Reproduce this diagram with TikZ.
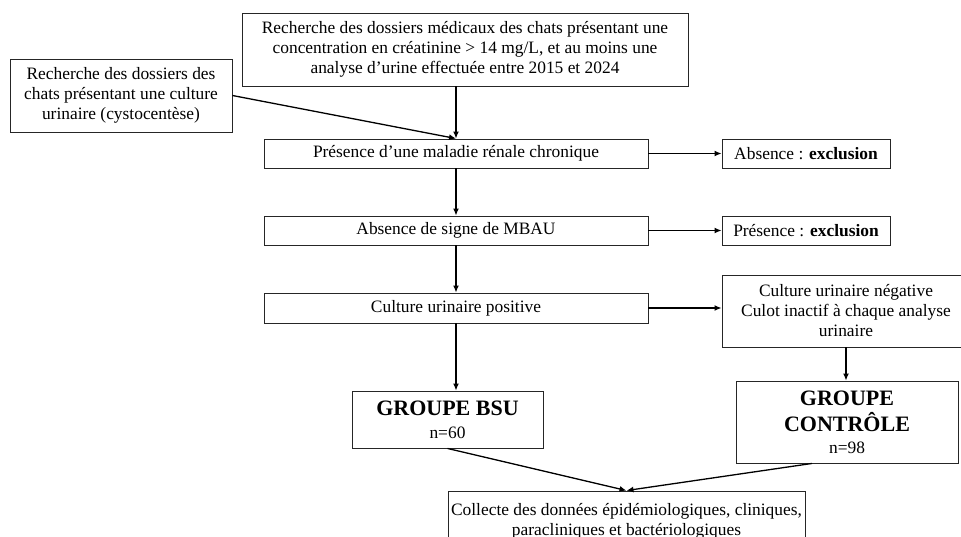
\documentclass[tikz,border=0pt]{standalone}
\usepackage{fontspec}
\setmainfont{Liberation Serif}
\usetikzlibrary{arrows.meta,calc}
\newcommand\myfs{\fontsize{17.4}{20}\selectfont}
\newcommand\mybig{\fontsize{22}{28}\selectfont\bfseries}
\newcommand\myback{\fontsize{17.4}{24}\selectfont\mdseries}
\tikzset{
  box/.style={draw=black!85, line width=0.9pt, inner sep=0pt, align=center, font=\myfs},
  arr/.style={line width=1.3pt, -{Latex[length=7pt,width=6pt]}},
  ln/.style={line width=1.3pt}
}
\begin{document}
\begin{tikzpicture}[x=1pt,y=-1pt]
\clip (0,0) rectangle (961,537);
\fill[white] (0,0) rectangle (961,537);
\node[box, minimum width=446pt, minimum height=73pt] (top) at (465,49.5)
  {Recherche des dossiers médicaux des chats présentant une\\concentration en créatinine > 14 mg/L, et au moins une\\analyse d’urine effectuée entre 2015 et 2024};
\node[box, minimum width=222pt, minimum height=73pt] (left) at (121,95.5)
  {Recherche des dossiers des\\chats présentant une culture\\urinaire (cystocentèse)};
\node[box, minimum width=384pt, minimum height=29pt] (mal) at (456,153.5)
  {Présence d’une maladie rénale chronique};
\node[box, minimum width=168pt, minimum height=29pt] (exa) at (806,153.5)
  {Absence : \textbf{exclusion}};
\node[box, minimum width=384pt, minimum height=29pt] (mbau) at (456,230.5)
  {Absence de signe de MBAU};
\node[box, minimum width=168pt, minimum height=29pt] (exb) at (806,230.5)
  {Présence : \textbf{exclusion}};
\node[box, minimum width=384pt, minimum height=30pt] (pos) at (456,308)
  {Culture urinaire positive};
\node[box, minimum width=248pt, minimum height=72pt] (neg) at (846,311)
  {Culture urinaire négative\\Culot inactif à chaque analyse\\urinaire};
\node[box, minimum width=222pt, minimum height=82pt] (ctrl) at (847,422)
  {\mybig GROUPE\\[6pt]\mybig CONTRÔLE\\[2pt]\myback n=98};
\node[box, minimum width=191pt, minimum height=57pt] (bsu) at (447.5,419.5)
  {\mybig GROUPE BSU\\[3pt]\myback n=60};
\node[box, minimum width=357pt, minimum height=60pt] (col) at (626.5,521)
  {Collecte des données épidémiologiques, cliniques,\\paracliniques et bactériologiques};
\draw[arr] (top.south -| mal.north) -- (mal.north);
\draw[arr] (left.east) -- (mal.north);
\draw[arr] (mal.east) -- (exa.west);
\draw[arr] (mal.south) -- (mbau.north);
\draw[arr] (mbau.east) -- (exb.west);
\draw[arr] (mbau.south) -- (pos.north);
\draw[arr] (pos.east) -- (pos.east -| neg.west);
\draw[arr] (neg.south) -- (neg.south |- ctrl.north);
\draw[arr] (pos.south) -- (pos.south |- bsu.north);
\draw[arr] (bsu.south) -- (col.north);
\draw[arr] ($(ctrl.south)+(-35,0)$) -- (col.north);
\end{tikzpicture}
\end{document}
